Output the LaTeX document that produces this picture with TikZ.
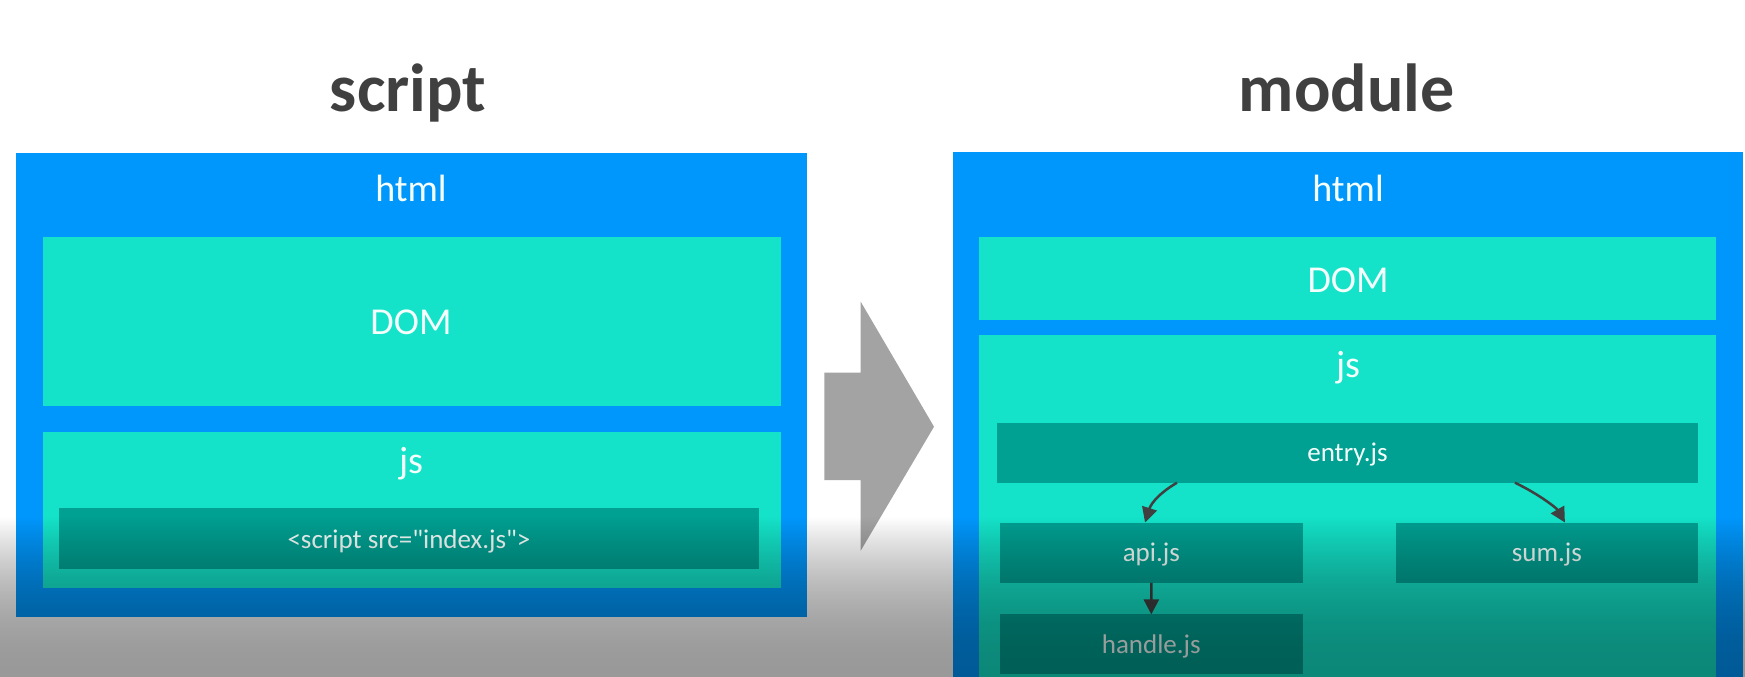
\documentclass[tikz,border=0pt]{standalone}
\usepackage{fontspec}
\setmainfont{Carlito}[Ligatures=TeXOff]
\usetikzlibrary{arrows.meta}

\definecolor{htmlblue}{RGB}{0,151,252}
\definecolor{panelteal}{RGB}{20,227,201}
\definecolor{fileteal}{RGB}{0,160,146}
\definecolor{titlegray}{RGB}{64,64,64}
\definecolor{shiftgray}{RGB}{163,163,163}
\definecolor{linkgray}{RGB}{64,64,64}
\definecolor{labelwhite}{RGB}{245,255,252}

\begin{document}
\begin{tikzpicture}[x=1pt,y=-1pt,
  area/.style={fill=#1, draw=none, inner sep=0pt, outer sep=0pt},
  filebox/.style={area=fileteal, text=labelwhite,
    font=\fontsize{27}{30}\selectfont, text height=19pt, text depth=2pt},
  biglabel/.style={text=labelwhite, font=\fontsize{38}{42}\selectfont,
    anchor=base, inner sep=0pt},
  heading/.style={text=titlegray, font=\fontsize{68}{80}\selectfont\bfseries,
    anchor=base, inner sep=0pt},
  link/.style={draw=linkgray, line width=2.5pt,
    -{Triangle[length=15pt,width=15pt]}}]

\useasboundingbox (0,0) rectangle (1745,677);
\clip (0,0) rectangle (1745,677);
\fill[white] (0,0) rectangle (1745,677);

% ---- classic script loading ----
\node[heading] (tscript) at (408,111) {script};
\node[area=htmlblue, minimum width=791pt, minimum height=463.7pt] (htmlL) at (411,385.2) {};
\node[area=panelteal, minimum width=738.2pt, minimum height=169.3pt] (domL) at (411.6,321.25) {};
\node[area=panelteal, minimum width=738.2pt, minimum height=156.3pt] (jsL) at (411.6,509.95) {};
\node[filebox, text height=22pt, minimum width=699.8pt, minimum height=60.5pt] (idx) at (409,538.45)
  {<script src="index.js">};
\node[biglabel] (htmlLt) at (411,201.5) {html};
\node[biglabel] (domLt) at (411,334) {DOM};
\node[biglabel] (jsLt) at (411,473) {js};

% ---- transition arrow ----
\fill[shiftgray] (824.3,372.7) -- (860.7,372.7) -- (860.7,301.7) -- (934,426.7)
  -- (860.7,550.7) -- (860.7,480) -- (824.3,480) -- cycle;

% ---- ES module loading ----
\node[heading] (tmodule) at (1346.6,111) {module};
\node[area=htmlblue, minimum width=790.6pt, minimum height=548pt] (htmlR) at (1348,426) {};
\node[area=panelteal, minimum width=737.4pt, minimum height=83.8pt] (domR) at (1347.7,278.5) {};
\node[area=panelteal, minimum width=737.4pt, minimum height=365pt] (jsR) at (1347.7,517.5) {};
\node[biglabel] (htmlRt) at (1348,201.5) {html};
\node[biglabel] (domRt) at (1348,292) {DOM};
\node[biglabel] (jsRt) at (1348,377) {js};

\node[filebox, minimum width=700.3pt, minimum height=59.6pt] (entry) at (1347.45,452.9) {entry.js};
\node[filebox, minimum width=302.5pt, minimum height=60.4pt] (api) at (1151.35,552.7) {api.js};
\node[filebox, minimum width=302.6pt, minimum height=60.4pt] (sum) at (1546.9,552.7) {sum.js};
\node[filebox, text height=21pt, minimum width=302.6pt, minimum height=60pt] (handle) at (1151.3,644.4) {handle.js};

\draw[link] ([xshift=-170.5pt]entry.south) .. controls +(-22,13) and +(5,-16) .. ([xshift=-6.3pt]api.north);
\draw[link] ([xshift=167.5pt]entry.south) .. controls +(25,12) and +(-8,-14) .. ([xshift=18pt]sum.north);
\draw[link] (api.south) -- (handle.north);

% ---- darkening band along the lower edge ----
\foreach \i in {0,...,159} {
  \pgfmathsetmacro\op{0.4*(1-(1-(\i+0.5)/160)^2)}
  \fill[black, opacity=\op] (0,517+\i) rectangle (1745,518+\i);
}
\end{tikzpicture}
\end{document}
